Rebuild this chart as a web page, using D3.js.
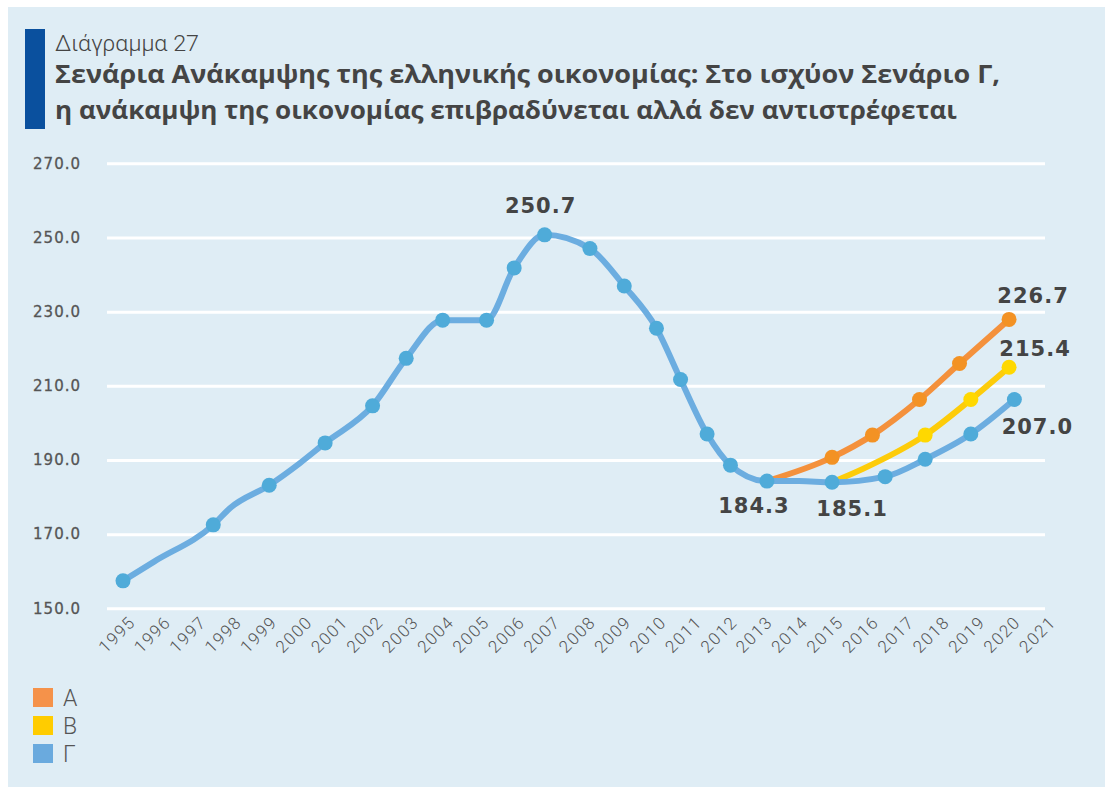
<!DOCTYPE html>
<html>
<head>
<meta charset="utf-8">
<script src="https://cdn.jsdelivr.net/npm/d3@7"></script>
<style>
  html, body { margin: 0; padding: 0; background: #fff; }
  svg { display: block; }
</style>
</head>
<body>
<div id="chart"></div>
<script>
// Σενάρια ανάκαμψης - line chart, three scenarios

const yearTicks = d3.range(1995, 2022);
const valueTicks = [150, 170, 190, 210, 230, 250, 270];

// Scenario Γ (historic + current scenario); dots: 1 = marker drawn
const gammaYears  = [1995.00, 1995.88, 1997.55, 1998.02, 1999.13, 1999.99, 2000.71, 2002.05, 2003.00, 2004.03, 2005.27, 2006.05, 2006.91, 2008.19, 2009.16, 2010.07, 2010.75, 2011.50, 2012.16, 2013.19, 2014.10, 2015.03, 2016.53, 2017.66, 2018.95, 2020.18];
const gammaValues = [157.4, 162.6, 172.5, 177.0, 183.2, 189.1, 194.6, 204.6, 217.4, 227.7, 227.7, 241.8, 250.7, 247.0, 236.9, 225.5, 211.7, 197.0, 188.6, 184.3, 184.3, 184.0, 185.5, 190.2, 197.0, 206.3];
const gammaDots   = [1, 0, 1, 0, 1, 0, 1, 1, 1, 1, 1, 1, 1, 1, 1, 1, 1, 1, 1, 1, 0, 1, 1, 1, 1, 1];

// Scenario Α
const alphaYears  = [2013.19, 2015.03, 2016.17, 2017.50, 2018.63, 2020.03];
const alphaValues = [184.3, 190.7, 196.7, 206.3, 216.0, 227.9];
const alphaDots   = [0, 1, 1, 1, 1, 1];

// Scenario Β
const betaYears  = [2015.03, 2015.90, 2017.66, 2018.95, 2020.03];
const betaValues = [184.0, 187.6, 196.7, 206.3, 215.0];
const betaDots   = [0, 0, 1, 1, 1];

const legendNames = ['Α', 'Β', 'Γ'];

// value labels: series, point index, text
const annotations = [
    { s: 'g', i: 12, text: '250.7', dx: -4, dy: -22 },
    { s: 'g', i: 19, text: '184.3', dx: -13, dy: 32 },
    { s: 'g', i: 21, text: '185.1', dx: 20, dy: 34 },
    { s: 'g', i: 25, text: '207.0', dx: 23, dy: 34 },
    { s: 'a', i: 5, text: '226.7', dx: 24, dy: -16 },
    { s: 'b', i: 4, text: '215.4', dx: 26, dy: -11 }
];

const W = 1105, H = 787;
const colors = {
    a: { line: '#f4913c', dot: '#f39224' },
    b: { line: '#fdcc0a', dot: '#ffd800' },
    g: { line: '#6cade0', dot: '#4fabd9' }
};
const legendColors = ['#f5924a', '#ffcc00', '#6aaade'];

const svg = d3.select('#chart').append('svg')
    .attr('width', W)
    .attr('height', H);

// panel
svg.append('rect')
    .attr('x', 8).attr('y', 7)
    .attr('width', W - 8).attr('height', H - 7)
    .attr('fill', '#dfedf5');

// title block
svg.append('rect')
    .attr('x', 25).attr('y', 29)
    .attr('width', 20).attr('height', 100)
    .attr('fill', '#0a509e');

svg.append('text')
    .attr('x', 55).attr('y', 51)
    .attr('textLength', 144)
    .attr('lengthAdjust', 'spacingAndGlyphs')
    .style('font-family', 'Roboto')
    .style('font-weight', 300)
    .style('font-size', '22px')
    .attr('fill', '#444')
    .text('Διάγραμμα 27');

const titleLines = [
    { text: 'Σενάρια Ανάκαμψης της ελληνικής οικονομίας: Στο ισχύον Σενάριο Γ,', y: 83, w: 945 },
    { text: 'η ανάκαμψη της οικονομίας επιβραδύνεται αλλά δεν αντιστρέφεται', y: 119, w: 902 }
];
svg.selectAll('.title')
    .data(titleLines)
    .enter().append('text')
    .attr('class', 'title')
    .attr('x', 55)
    .attr('y', d => d.y)
    .attr('textLength', d => d.w)
    .attr('lengthAdjust', 'spacingAndGlyphs')
    .style('font-family', 'Open Sans')
    .style('font-weight', 700)
    .style('font-size', '25px')
    .attr('fill', '#444')
    .text(d => d.text);

// scales
const x = d3.scaleLinear().domain([1995, 2021]).range([123, 1043.4]);
const y = d3.scaleLinear().domain([150, 270]).range([608.3, 163.3]);
const gridLeft = 107, gridRight = 1045;

// y axis + grid
const yAxis = d3.axisLeft(y)
    .tickValues(valueTicks)
    .tickSize(-(gridRight - gridLeft))
    .tickPadding(26)
    .tickFormat(d3.format('.1f'));

const yg = svg.append('g')
    .attr('transform', `translate(${gridLeft},0)`)
    .call(yAxis);
yg.select('.domain').remove();
yg.selectAll('line').attr('stroke', '#fff').attr('stroke-width', 3);
yg.selectAll('text')
    .style('font-family', 'DejaVu Sans')
    .style('font-size', '15px')
    .style('letter-spacing', '1px')
    .style('stroke', '#555')
    .style('stroke-width', '0.3px')
    .attr('fill', '#555');

// x axis labels
const xAxis = d3.axisBottom(x)
    .tickValues(yearTicks)
    .tickSize(0)
    .tickFormat(d3.format('d'));

const xg = svg.append('g')
    .attr('transform', `translate(0,${y(150)})`)
    .call(xAxis);
xg.select('.domain').remove();
xg.selectAll('text')
    .attr('y', 0).attr('dy', 0)
    .attr('text-anchor', 'end')
    .attr('transform', 'translate(13,15) rotate(-45)')
    .style('font-family', 'Roboto')
    .style('font-weight', 300)
    .style('font-size', '17px')
    .style('letter-spacing', '1.4px')
    .attr('fill', '#555');

// lines
const series = {
    a: alphaYears.map((yr, i) => ({ yr, v: alphaValues[i], dot: alphaDots[i] })),
    b: betaYears.map((yr, i) => ({ yr, v: betaValues[i], dot: betaDots[i] })),
    g: gammaYears.map((yr, i) => ({ yr, v: gammaValues[i], dot: gammaDots[i] }))
};

const line = d3.line()
    .x(d => x(d.yr))
    .y(d => y(d.v))
    .curve(d3.curveMonotoneX);

['a', 'b', 'g'].forEach(k => {
    svg.append('path')
        .datum(series[k])
        .attr('d', line)
        .attr('fill', 'none')
        .attr('stroke', colors[k].line)
        .attr('stroke-width', 6)
        .attr('stroke-linejoin', 'round')
        .attr('stroke-linecap', 'round');
});

['a', 'b', 'g'].forEach(k => {
    svg.selectAll('.dot-' + k)
        .data(series[k].filter(d => d.dot))
        .enter().append('circle')
        .attr('class', 'dot-' + k)
        .attr('cx', d => x(d.yr))
        .attr('cy', d => y(d.v))
        .attr('r', 7.5)
        .attr('fill', colors[k].dot);
});

// value labels
svg.selectAll('.val')
    .data(annotations)
    .enter().append('text')
    .attr('class', 'val')
    .attr('x', d => x(series[d.s][d.i].yr) + d.dx)
    .attr('y', d => y(series[d.s][d.i].v) + d.dy)
    .attr('text-anchor', 'middle')
    .style('font-family', 'DejaVu Sans')
    .style('font-weight', 700)
    .style('font-size', '21px')
    .style('letter-spacing', '1px')
    .attr('fill', '#444')
    .text(d => d.text);

// legend
const legend = svg.selectAll('.leg')
    .data(legendNames)
    .enter().append('g')
    .attr('class', 'leg')
    .attr('transform', (d, i) => `translate(33,${688 + i * 28})`);

legend.append('rect')
    .attr('width', 20).attr('height', 19)
    .attr('fill', (d, i) => legendColors[i]);

legend.append('text')
    .attr('x', 30).attr('y', 18)
    .style('font-family', 'Roboto')
    .style('font-weight', 300)
    .style('font-size', '23px')
    .attr('fill', '#555')
    .text(d => d);
</script>
</body>
</html>
